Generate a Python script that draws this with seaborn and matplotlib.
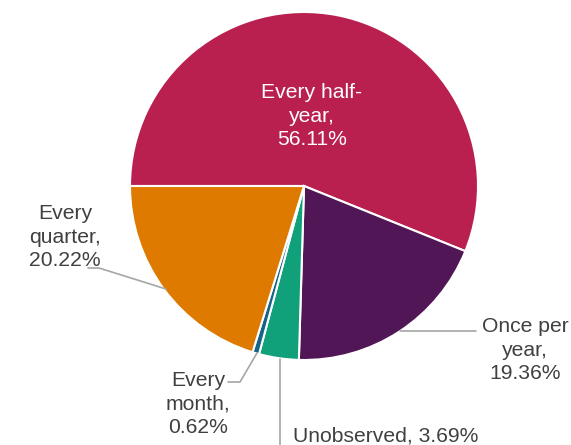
import matplotlib
matplotlib.use("Agg")
import matplotlib.pyplot as plt
import seaborn as sns
import numpy as np

categories = ["Every half-\nyear,", "Once per\nyear,", "Unobserved,", "Every\nmonth,", "Every\nquarter,"]
values = [56.11, 19.36, 3.69, 0.62, 20.22]
colors = ["#B91F4F", "#511656", "#10A07A", "#14648A", "#DE7A00"]

sns.set_theme(style="white")
plt.rcParams['font.family'] = ['Liberation Sans', 'DejaVu Sans']

W, H = 571, 445
cx, cy, R = 304, 186, 174
fig = plt.figure(figsize=(W / 100, H / 100), dpi=100)
ax = fig.add_axes([0, 0, 1, 1])
ax.pie(values, colors=colors, startangle=180, counterclock=False, radius=1,
       wedgeprops=dict(edgecolor="white", linewidth=1.5))
ax.set_xlim(-cx / R, (W - cx) / R)
ax.set_ylim((cy - H) / R, cy / R)
ax.set_aspect("equal")
ax.axis("off")

def P(px, py):
    return ((px - cx) / R, (cy - py) / R)

tc = "#404040"
lc = "#A6A6A6"
fs = 15.2
ls = 1.32

def lbl(i):
    return categories[i] + "\n" + f"{values[i]:.2f}%"

def put(px, py, s, color=tc, ha="center"):
    x, y = P(px, py)
    ax.text(x, y, s, color=color, fontsize=fs, ha=ha, va="center",
            multialignment="center", linespacing=ls)

put(312, 116, lbl(0), color="white")
put(525, 350, lbl(1))
put(293, 436, categories[2] + " " + f"{values[2]:.2f}%", ha="left")
put(198, 404, lbl(3))
put(65, 237, lbl(4))

def line(pix):
    pts = [P(*p) for p in pix]
    ax.plot([p[0] for p in pts], [p[1] for p in pts], color=lc, lw=1.2)

line([(400, 331), (476, 331)])
line([(280, 359), (280, 446)])
line([(228, 382), (240, 382), (257, 353)])
line([(88, 268), (99, 268), (166, 289)])

fig.savefig("out.png", dpi=100)
